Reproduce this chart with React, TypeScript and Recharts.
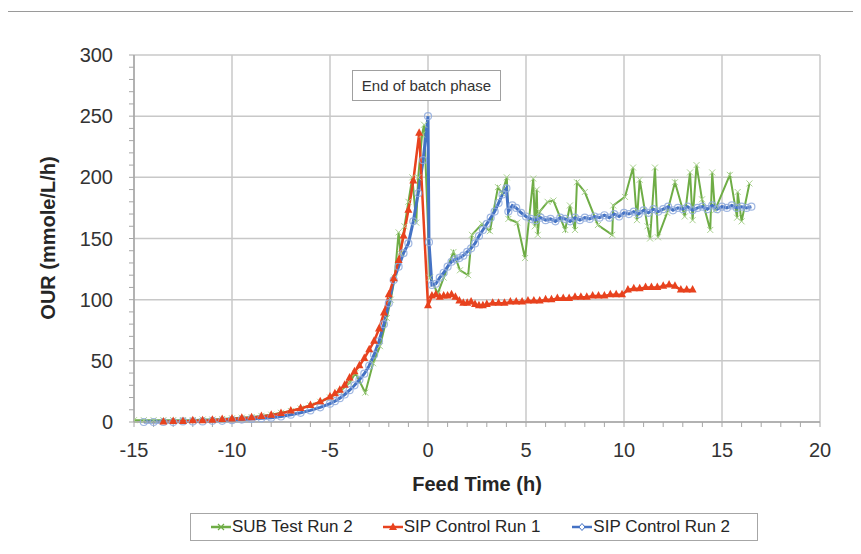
import React from "react"
import { CartesianGrid, Line, LineChart, XAxis, YAxis } from "recharts"

// SUB Test Run 2 (green)
const subTime = [
  -15, -14.5, -14, -13.5, -13, -12.5, -12, -11.5, -11, -10.5, -10, -9.5, -9, -8.5, -8, -7.5, -7, -6.5, -6, -5.5,
  -5, -4.5, -4, -3.7, -3.2, -2.8, -2.45, -2.1, -1.9, -1.7, -1.5, -1.4, -1.2, -1.0, -0.8, -0.6, -0.5, -0.3, -0.2,
  0.1, 0.5, 0.8, 1.3, 1.63, 2.05, 2.24, 2.76, 3.16, 3.57, 3.78, 4.02, 4.1, 4.55, 4.95, 5.37, 5.45, 5.55, 5.6,
  5.7, 6.1, 6.4, 7.0, 7.24, 7.5, 7.6, 8.0, 8.67, 9.4, 9.45, 10.05, 10.46, 10.66, 10.8, 11.2, 11.33, 11.58,
  11.73, 12.2, 12.6, 13.1, 13.37, 13.5, 13.7, 13.98, 14.4, 14.5, 14.64, 15.4, 15.77, 15.8, 16.0, 16.4,
]
const subOur = [
  1.5, 1.5, 1.5, 1.5, 1.5, 1.5, 1.5, 2, 2, 2.5, 3, 3.5, 4, 5, 6, 7.5, 9, 11, 13.5, 16.5,
  20, 25, 32, 40, 24, 48, 62, 85, 100, 118, 155, 138, 160, 180, 200, 163, 200, 235, 243,
  118, 105, 118, 139, 124, 120, 153, 162, 156, 192, 187, 200, 166, 163, 134, 199, 160, 190, 153,
  172, 180, 181, 157, 177, 157, 196, 188, 161, 153, 177, 184, 208, 165, 198, 160, 150, 208,
  151, 171, 196, 168, 204, 165, 210, 182, 157, 204, 173, 202, 167, 188, 164, 195,
]

// SIP Control Run 1 (red)
const sip1Time = [
  -13.5, -13, -12.5, -12, -11.5, -11, -10.5, -10, -9.5, -9, -8.5, -8, -7.5, -7, -6.5, -6, -5.5, -5,
  -4.75, -4.5, -4.25, -4, -3.75, -3.5, -3.25, -3, -2.75, -2.5, -2.25, -2, -1.75, -1.5, -1.25, -1, -0.75, -0.45,
  0, 0.2, 0.4, 0.6, 0.8, 1.0, 1.2, 1.4, 1.6, 1.8, 2.0, 2.2, 2.4, 2.6, 2.8, 3.0, 3.3, 3.6, 3.9, 4.2, 4.5, 4.8,
  5.1, 5.4, 5.7, 6.0, 6.3, 6.6, 6.9, 7.2, 7.5, 7.8, 8.1, 8.4, 8.7, 9.0, 9.3, 9.6, 9.9, 10.2, 10.5, 10.8,
  11.1, 11.4, 11.7, 12.0, 12.3, 12.6, 12.9, 13.2, 13.5,
]
const sip1Our = [
  0, 0.5, 0.5, 1, 1, 1.5, 2, 2.5, 3, 3.5, 4.5, 5.5, 7, 9, 11, 13.5, 16.5, 20.5,
  23, 26, 30, 36, 41, 46, 52, 59, 66, 76, 89, 104, 117, 132, 152, 173, 197, 236,
  95, 103, 104, 102, 103, 103, 104, 102, 99, 97, 97, 98, 96, 95, 95, 96, 97, 97, 97, 98, 98, 98,
  99, 99, 99, 100, 100, 101, 101, 101, 102, 102, 102, 103, 103, 103, 104, 104, 104, 108, 109, 109,
  110, 110, 110, 111, 112, 111, 108, 108, 108,
]

// SIP Control Run 2 (blue)
const sip2Time = [
  -14.5, -14, -13.5, -13, -12.5, -12, -11.5, -11, -10.5, -10, -9.5, -9, -8.5, -8, -7.5, -7, -6.5, -6, -5.5, -5,
  -4.75, -4.5, -4.25, -4, -3.75, -3.5, -3.25, -3, -2.75, -2.5, -2.25, -2, -1.75, -1.5, -1.25, -1, -0.75, -0.5,
  -0.25, 0, 0.05, 0.2, 0.4, 0.6, 0.8, 1.0, 1.2, 1.4, 1.6, 1.8, 2.0, 2.2, 2.4, 2.6, 2.8, 3.0, 3.2, 3.4, 3.6, 3.8,
  4.0, 4.1, 4.3, 4.5, 4.75, 5.0, 5.25, 5.5, 5.75, 6.0, 6.25, 6.5, 6.75, 7.0, 7.25, 7.5, 7.75, 8.0, 8.25, 8.5,
  8.75, 9.0, 9.25, 9.5, 9.75, 10.0, 10.25, 10.5, 10.75, 11.0, 11.25, 11.5, 11.75, 12.0, 12.25, 12.5, 12.75,
  13.0, 13.25, 13.5, 13.75, 14.0, 14.25, 14.5, 14.75, 15.0, 15.25, 15.5, 15.75, 16.0, 16.25, 16.5,
]
const sip2Our = [
  0, 0, 0, 0, 0.5, 0.5, 0.5, 1, 1, 1.5, 2, 2.5, 3, 3.5, 4.5, 6, 7.5, 9.5, 12, 15,
  17, 19.5, 22.5, 26, 30, 34.5, 39.5, 46, 55, 66, 80, 97, 116, 127, 138, 146, 164, 187,
  214, 250, 147, 112, 113, 118, 122, 127, 131, 133, 134, 136, 139, 142, 146, 152, 157, 162, 167, 172, 179, 186,
  191, 172, 177, 175, 171, 168, 166, 165, 167, 165, 166, 164, 167, 166, 164, 167, 165, 167, 166, 168,
  167, 169, 167, 170, 168, 171, 170, 172, 170, 173, 171, 174, 172, 174, 176, 173, 175,
  174, 176, 173, 175, 176, 174, 177, 174, 176, 175, 177, 175, 176, 175, 176,
]

const xTicks = [
  -15, -14, -13, -12, -11, -10, -9, -8, -7, -6, -5, -4, -3, -2, -1, 0, 1, 2, 3, 4, 5, 6, 7, 8, 9, 10,
  11, 12, 13, 14, 15, 16, 17, 18, 19, 20,
]
const xMajor = [-15, -10, -5, 0, 5, 10, 15, 20]
const yTicks = [
  0, 10, 20, 30, 40, 50, 60, 70, 80, 90, 100, 110, 120, 130, 140, 150, 160, 170, 180, 190, 200, 210, 220,
  230, 240, 250, 260, 270, 280, 290, 300,
]
const yMajor = [0, 50, 100, 150, 200, 250, 300]

const subData = subTime.map((t, i) => ({ t, our: subOur[i] }))
const sip1Data = sip1Time.map((t, i) => ({ t, our: sip1Our[i] }))
const sip2Data = sip2Time.map((t, i) => ({ t, our: sip2Our[i] }))

const FONT = '"Liberation Sans", Arial, sans-serif'
const GREEN = "#6FAD46"
const RED = "#E8421E"
const BLUE = "#4472C4"

const XTick = (props: any) => {
  const { x, y, payload } = props
  if (!xMajor.includes(payload.value)) return <g />
  return (
    <text x={x} y={y} dy="0.71em" textAnchor="middle" fontSize={20} fill="#333" fontFamily={FONT}>
      {payload.value}
    </text>
  )
}

const YTick = (props: any) => {
  const { x, y, payload } = props
  if (!yMajor.includes(payload.value)) return <g />
  return (
    <text x={x} y={y} dy="0.355em" textAnchor="end" fontSize={20} fill="#333" fontFamily={FONT}>
      {payload.value}
    </text>
  )
}

const GreenDot = (props: any) => {
  const { cx, cy, index } = props
  if (cx == null || cy == null) return <g key={`g${index}`} />
  return (
    <path
      key={`g${index}`}
      d={`M${cx - 3},${cy - 3}L${cx + 3},${cy + 3}M${cx - 3},${cy + 3}L${cx + 3},${cy - 3}`}
      stroke="#A9D18E"
      strokeWidth={1}
    />
  )
}

const RedDot = (props: any) => {
  const { cx, cy, index } = props
  if (cx == null || cy == null) return <g key={`r${index}`} />
  return <path key={`r${index}`} d={`M${cx},${cy - 5}L${cx + 4},${cy + 2.5}L${cx - 4},${cy + 2.5}Z`} fill={RED} />
}

const BlueDot = (props: any) => {
  const { cx, cy, index } = props
  if (cx == null || cy == null) return <g key={`b${index}`} />
  return <circle key={`b${index}`} cx={cx} cy={cy} r={3.5} fill="none" stroke="#8FAADC" strokeWidth={1.2} strokeOpacity={0.85} />
}

const LegendItem = ({ color, label, kind, gap }: { color: string; label: string; kind: string; gap: number }) => (
  <span style={{ display: "inline-flex", alignItems: "center", marginRight: gap, whiteSpace: "nowrap" }}>
    <svg width={20} height={12} style={{ marginRight: 1 }}>
      <line x1={0} y1={6} x2={20} y2={6} stroke={color} strokeWidth={2.5} />
      {kind === "x" && <path d="M7,3L13,9M7,9L13,3" stroke={color} strokeWidth={1.2} />}
      {kind === "tri" && <path d="M10,1.5L14,9L6,9Z" fill={color} />}
      {kind === "dia" && <path d="M10,2.5L13,6L10,9.5L7,6Z" fill="#fff" stroke={color} strokeWidth={1} />}
    </svg>
    {label}
  </span>
)

export default function App() {
  return (
    <div style={{ position: "relative", width: 853, height: 546, fontFamily: FONT }}>
      <div
        style={{
          position: "absolute",
          left: -1,
          top: 3,
          width: 860,
          height: 560,
          borderTop: "1.5px solid #9a9a9a",
          borderLeft: "1.5px solid #9a9a9a",
        }}
      />
      <LineChart width={853} height={546} margin={{ top: 47, right: 41, left: 66, bottom: 92 }}>
        <CartesianGrid
          stroke="#c8c8c8"
          strokeWidth={1.5}
          verticalValues={xMajor}
          horizontalValues={yMajor}
        />
        <XAxis
          type="number"
          dataKey="t"
          domain={[-15, 20]}
          ticks={xTicks}
          interval={0}
          height={40}
          tick={<XTick />}
          tickSize={5}
          tickMargin={16}
          tickLine={{ stroke: "#a6a6a6" }}
          axisLine={{ stroke: "#a6a6a6", strokeWidth: 1.5 }}
          allowDataOverflow
        />
        <YAxis
          type="number"
          dataKey="our"
          domain={[0, 300]}
          ticks={yTicks}
          interval={0}
          width={60}
          tick={<YTick />}
          tickSize={5}
          tickMargin={16}
          tickLine={{ stroke: "#a6a6a6" }}
          axisLine={{ stroke: "#a6a6a6", strokeWidth: 1.5 }}
        />
        <Line
          data={subData}
          dataKey="our"
          type="linear"
          stroke={GREEN}
          strokeWidth={2}
          dot={<GreenDot />}
          activeDot={false}
          isAnimationActive={false}
        />
        <Line
          data={sip2Data}
          dataKey="our"
          type="linear"
          stroke={BLUE}
          strokeWidth={3}
          dot={<BlueDot />}
          activeDot={false}
          isAnimationActive={false}
        />
        <Line
          data={sip1Data}
          dataKey="our"
          type="linear"
          stroke={RED}
          strokeWidth={2.5}
          dot={<RedDot />}
          activeDot={false}
          isAnimationActive={false}
        />
      </LineChart>

      <div
        style={{
          position: "absolute",
          left: 344,
          top: 62,
          width: 147,
          height: 29,
          border: "1px solid #a0a0a0",
          background: "#fff",
          fontSize: 15,
          color: "#333",
          display: "flex",
          alignItems: "center",
          justifyContent: "center",
        }}
      >
        End of batch phase
      </div>

      <div
        style={{
          position: "absolute",
          left: 40,
          top: 230,
          transform: "translate(-50%, -50%) rotate(-90deg)",
          whiteSpace: "nowrap",
          fontSize: 20,
          fontWeight: "bold",
          color: "#262626",
        }}
      >
        OUR (mmole/L/h)
      </div>
      <div
        style={{
          position: "absolute",
          left: 469,
          top: 476,
          transform: "translate(-50%, -50%)",
          whiteSpace: "nowrap",
          fontSize: 20,
          fontWeight: "bold",
          color: "#262626",
        }}
      >
        Feed Time (h)
      </div>

      <div
        style={{
          position: "absolute",
          left: 182,
          top: 505,
          width: 568,
          height: 28,
          border: "1px solid #a6a6a6",
          background: "#fff",
          fontSize: 17,
          color: "#262626",
          display: "flex",
          alignItems: "center",
          justifyContent: "flex-start",
          boxSizing: "border-box",
          paddingLeft: 20,
        }}
      >
        <LegendItem color={GREEN} label="SUB Test Run 2" kind="x" gap={30} />
        <LegendItem color={RED} label="SIP Control Run 1" kind="tri" gap={32} />
        <LegendItem color={BLUE} label="SIP Control Run 2" kind="dia" gap={0} />
      </div>
    </div>
  )
}
